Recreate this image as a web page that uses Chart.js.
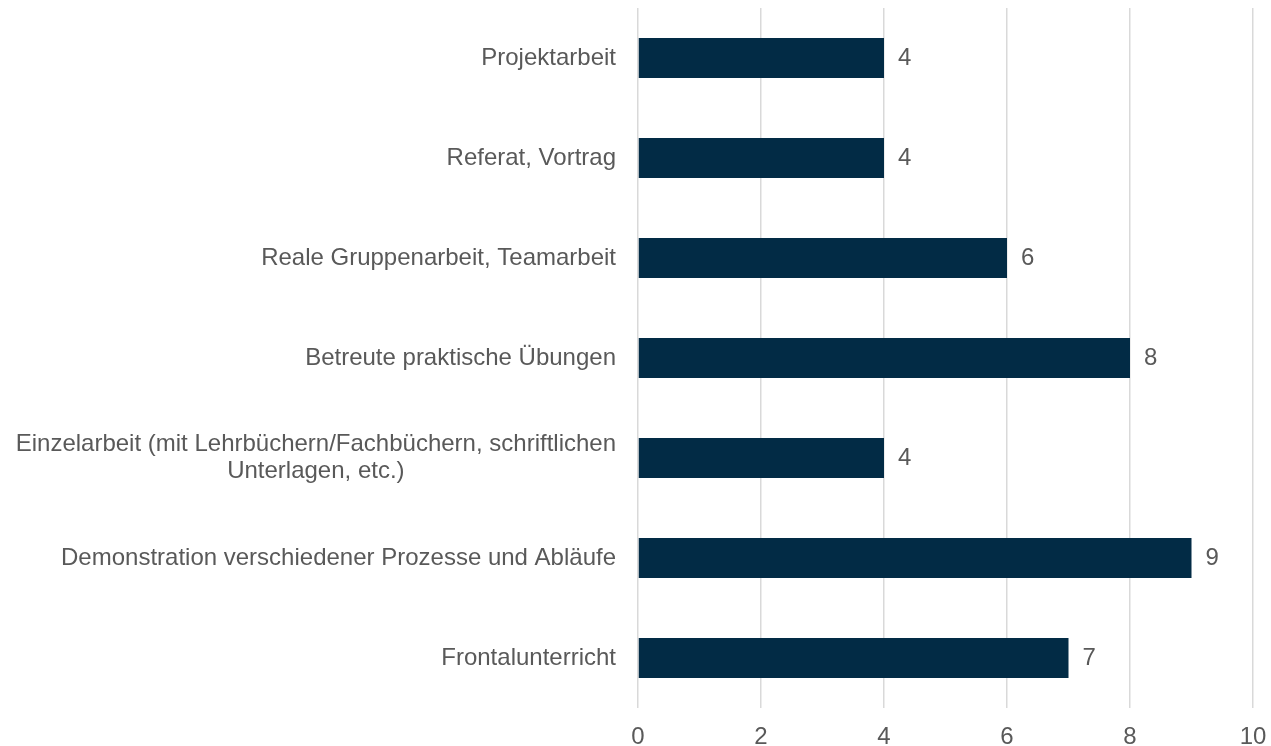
<!DOCTYPE html>
<html>
<head>
<meta charset="utf-8">
<script src="https://cdn.jsdelivr.net/npm/chart.js@4/dist/chart.umd.min.js"></script>
<style>
  html, body { margin: 0; padding: 0; background: #ffffff; }
  #wrap { width: 1271px; height: 746px; }
</style>
</head>
<body>
<div id="wrap"><canvas id="c" width="1271" height="746"></canvas></div>
<script>
const categories = [
  ["Projektarbeit"],
  ["Referat, Vortrag"],
  ["Reale Gruppenarbeit, Teamarbeit"],
  ["Betreute praktische Übungen"],
  ["Einzelarbeit (mit Lehrbüchern/Fachbüchern, schriftlichen", "Unterlagen, etc.)"],
  ["Demonstration verschiedener Prozesse und Abläufe"],
  ["Frontalunterricht"]
];
const values = [4, 4, 6, 8, 4, 9, 7];
const xTicks = [0, 2, 4, 6, 8, 10];

const FONT = "'Liberation Sans', Arial, sans-serif";
const TEXT = "#595959";
const FS = 24;

const catLabelPlugin = {
  id: 'catLabels',
  afterDraw(chart) {
    const ctx = chart.ctx;
    const y = chart.scales.y;
    const rightX = chart.chartArea.left - 22;
    ctx.save();
    ctx.font = FS + "px " + FONT;
    ctx.fillStyle = TEXT;
    ctx.textBaseline = 'middle';
    const lh = 27;
    categories.forEach((lines, i) => {
      const cy = y.getPixelForTick(i);
      const widths = lines.map(l => ctx.measureText(l).width);
      const maxW = Math.max(...widths);
      const center = rightX - maxW / 2;
      lines.forEach((l, j) => {
        const ly = cy + (j - (lines.length - 1) / 2) * lh;
        ctx.textAlign = 'center';
        ctx.fillText(l, center, ly);
      });
    });
    ctx.restore();
  }
};

const valueLabelPlugin = {
  id: 'valLabels',
  afterDatasetsDraw(chart) {
    const ctx = chart.ctx;
    const meta = chart.getDatasetMeta(0);
    ctx.save();
    ctx.font = FS + "px " + FONT;
    ctx.fillStyle = TEXT;
    ctx.textAlign = 'left';
    ctx.textBaseline = 'middle';
    meta.data.forEach((bar, i) => {
      ctx.fillText(String(values[i]), bar.x + 14, bar.y);
    });
    ctx.restore();
  }
};

new Chart(document.getElementById('c'), {
  type: 'bar',
  data: {
    labels: categories.map(l => l.join(' ')),
    datasets: [{
      data: values,
      backgroundColor: '#022b45',
      borderWidth: 0,
      categoryPercentage: 1,
      barPercentage: 0.4
    }]
  },
  options: {
    indexAxis: 'y',
    responsive: false,
    animation: false,
    events: [],
    layout: { padding: { top: 8, right: 18, bottom: 0, left: 0 } },
    plugins: { legend: { display: false }, tooltip: { enabled: false } },
    scales: {
      x: {
        min: xTicks[0],
        max: xTicks[xTicks.length - 1],
        afterBuildTicks(scale) { scale.ticks = xTicks.map(v => ({ value: v })); },
        grid: { color: '#d9d9d9', lineWidth: 1.5, drawTicks: false },
        border: { display: false },
        ticks: { color: TEXT, font: { family: FONT, size: FS, lineHeight: 1 }, padding: 17 },
        afterFit(scale) { scale.height = 38; scale.paddingRight = 0; scale.paddingLeft = 0; }
      },
      y: {
        grid: { display: false },
        border: { display: false },
        ticks: { display: false },
        afterFit(scale) { scale.width = 638; }
      }
    }
  },
  plugins: [catLabelPlugin, valueLabelPlugin]
});
</script>
</body>
</html>
